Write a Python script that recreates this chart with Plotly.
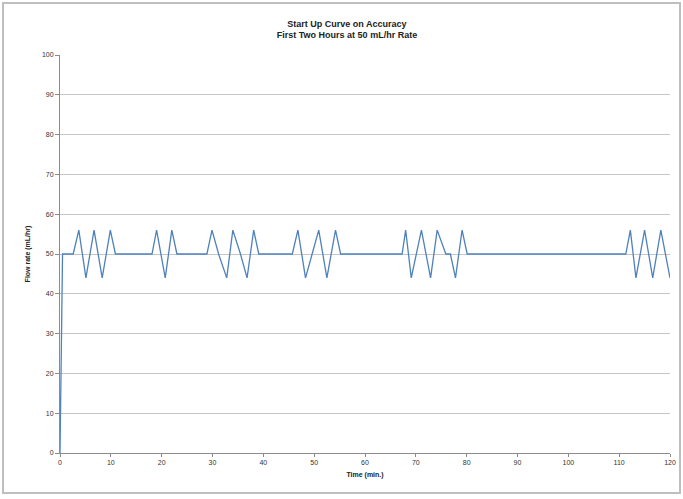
import plotly.graph_objects as go

# Time in minutes and flow rate in mL/hr
time_min = [0, 0.5, 2.6, 3.7, 5.1, 6.7, 8.3, 9.9, 10.9,
            18.1, 19.0, 20.7, 22.0, 23.0,
            28.9, 29.9, 31.2, 32.8, 34.0, 35.5, 36.8, 38.1, 39.1,
            45.7, 46.8, 48.3, 49.6, 50.9, 52.5, 54.2, 55.2,
            67.3, 68.0, 69.1, 71.1, 72.9, 74.2, 75.9, 76.8, 77.8, 79.1, 80.1,
            111.3, 112.2, 113.3, 115.0, 116.6, 118.2, 120.0]
flow_rate = [0, 50, 50, 56, 44, 56, 44, 56, 50,
             50, 56, 44, 56, 50,
             50, 56, 50, 44, 56, 50, 44, 56, 50,
             50, 56, 44, 50, 56, 44, 56, 50,
             50, 56, 44, 56, 44, 56, 50, 50, 44, 56, 50,
             50, 56, 44, 56, 44, 56, 44]

x_ticks = list(range(0, 121, 10))
y_ticks = list(range(0, 101, 10))

W, H = 683, 499
L, R, T, B = 60, 13, 55, 46
pw, ph = W - L - R, H - T - B

fig = go.Figure()
fig.add_trace(go.Scatter(
    x=time_min, y=flow_rate, mode="lines",
    line=dict(color="#4F81BD", width=1.3),
    showlegend=False, hoverinfo="skip"))

tickfont = dict(family="Liberation Sans, Arial, sans-serif", size=7, color="#333333")

fig.update_layout(
    width=W, height=H,
    margin=dict(l=L, r=R, t=T, b=B, autoexpand=False),
    paper_bgcolor="white", plot_bgcolor="white",
    hovermode=False,
    title=dict(
        text="<b>Start Up Curve on Accuracy<br>First Two Hours at 50 mL/hr Rate</b>",
        x=0.508, xref="container", xanchor="center",
        y=1 - 26.5 / H, yref="container", yanchor="middle",
        font=dict(family="Liberation Sans, Arial, sans-serif", size=9, color="#222222")),
    xaxis=dict(
        range=[0, 120], tickvals=x_ticks, ticktext=[str(v) for v in x_ticks],
        showgrid=False, zeroline=False, automargin=False,
        showline=True, linecolor="#8C8C8C", linewidth=1,
        ticks="outside", ticklen=3, tickcolor="#8C8C8C",
        tickfont=tickfont,
        title=dict(text="<b>Time (min.)</b>", standoff=6,
                   font=dict(family="Liberation Sans, Arial, sans-serif", size=7, color="#222222"))),
    yaxis=dict(
        range=[0, 100], tickvals=y_ticks, ticktext=[str(v) for v in y_ticks],
        showgrid=True, gridcolor="#C6C6C6", gridwidth=1, zeroline=False, automargin=False,
        showline=True, linecolor="#8C8C8C", linewidth=1,
        ticks="outside", ticklen=4, tickcolor="#8C8C8C",
        tickfont=tickfont,
        title=dict(text="<b>Flow rate (mL/hr)</b>", standoff=10,
                   font=dict(family="Liberation Sans, Arial, sans-serif", size=7, color="#222222"))),
)

# outer chart frame
fig.add_shape(type="rect", xref="paper", yref="paper",
              x0=(3 - L) / pw, x1=(680 - L) / pw,
              y0=(H - B - 493) / ph, y1=(H - B - 3) / ph,
              line=dict(color="#BFBFBF", width=2), layer="below")

fig.write_html("out.html",
               config={"displayModeBar": False, "staticPlot": True},
               post_script="document.body.style.margin='0';document.body.style.overflow='hidden';")
